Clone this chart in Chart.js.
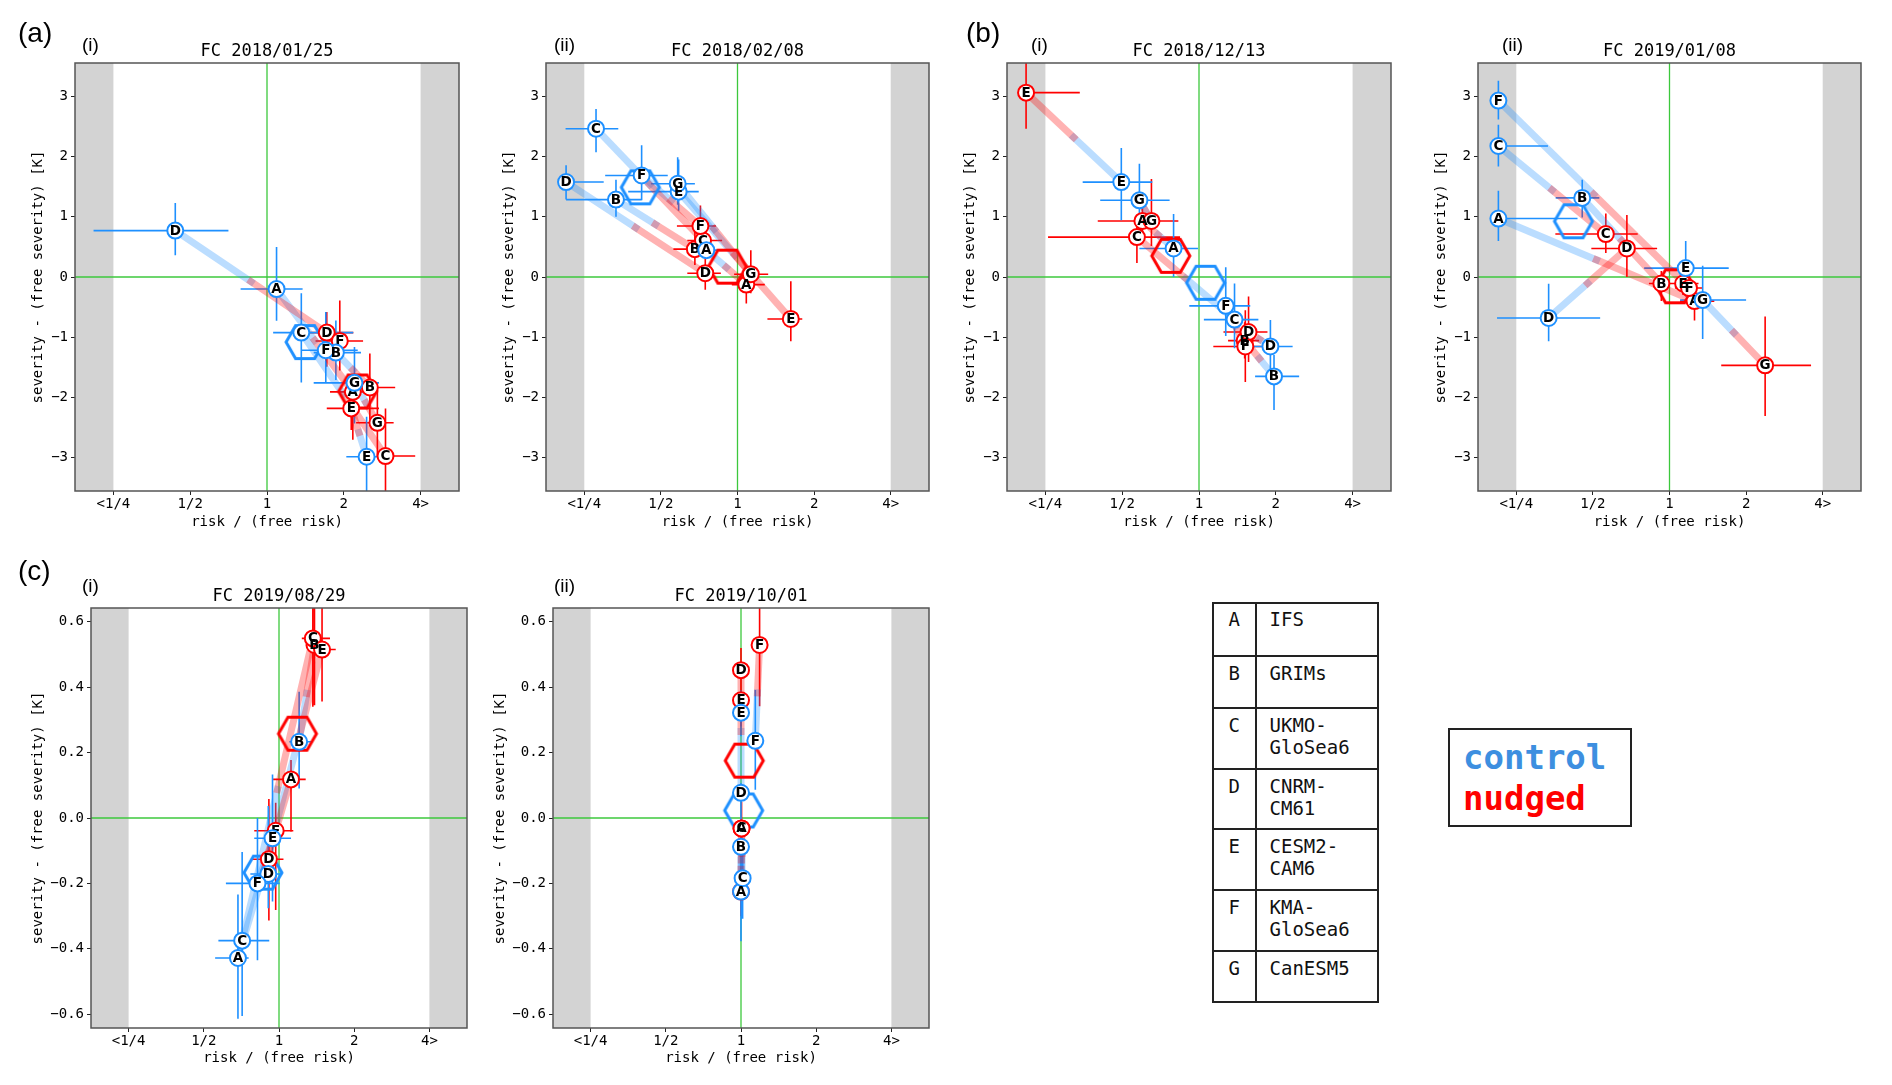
<!DOCTYPE html>
<html><head><meta charset="utf-8">
<script src="https://cdn.jsdelivr.net/npm/chart.js@4.4.1/dist/chart.umd.min.js"></script>
<style>
body{margin:0;width:1892px;height:1085px;background:#fff;position:relative;overflow:hidden}
canvas.p{position:absolute}
.lab{position:absolute;line-height:1;white-space:nowrap;color:#000;font-family:"Liberation Sans",Arial,sans-serif}
.leg{position:absolute;font-family:"DejaVu Sans Mono",monospace;font-size:19px;line-height:21.7px;color:#111;white-space:pre}
</style></head><body>
<script>
// ---------------- data ----------------
const models = ['A','B','C','D','E','F','G'];
const modelNames = ['IFS','GRIMs','UKMO-\nGloSea6','CNRM-\nCM61','CESM2-\nCAM6','KMA-\nGloSea6','CanESM5'];
const xTickValues = [0.25, 0.5, 1, 2, 4];
const xTickLabels = ['<1/4', '1/2', '1', '2', '4>'];
const bandEdges = [0.25, 4];
const yTicksLarge = [-3, -2, -1, 0, 1, 2, 3];
const yTickLabelsLarge = ['\u22123', '\u22122', '\u22121', '0', '1', '2', '3'];
const yTicksSmall = [-0.6, -0.4, -0.2, 0, 0.2, 0.4, 0.6];
const yTickLabelsSmall = ['\u22120.6', '\u22120.4', '\u22120.2', '0.0', '0.2', '0.4', '0.6'];
const panelTitles = ['FC 2018/01/25', 'FC 2018/02/08', 'FC 2018/12/13', 'FC 2019/01/08', 'FC 2019/08/29', 'FC 2019/10/01'];

// (a)(i) FC 2018/01/25            A      B      C      D      E      F      G
const a1CtrlRisk   = [1.09,  1.862, 1.363, 0.437, 2.457, 1.70,  2.202];
const a1CtrlRiskLo = [0.788, 1.524, 1.057, 0.209, 2.046, 1.355, 1.524];
const a1CtrlRiskHi = [1.379, 2.336, 2.177, 0.706, 2.748, 2.268, 2.748];
const a1CtrlSev    = [-0.20, -1.254, -0.922, 0.77, -2.982, -1.215, -1.756];
const a1CtrlSevLo  = [-0.725, -1.71, -1.75, 0.36, -3.6, -1.74, -2.43];
const a1CtrlSevHi  = [0.497, -0.72, -0.27, 1.227, -2.32, -0.58, -1.16];
const a1NudgRisk   = [2.17,  2.53,  2.914, 1.715, 2.139, 1.929, 2.708];
const a1NudgRiskLo = [1.766, 2.2,   2.715, 1.42,  1.715, 1.55,  2.235];
const a1NudgRiskHi = [2.406, 3.18,  3.81,  2.18,  2.748, 2.38,  3.136];
const a1NudgSev    = [-1.905, -1.833, -2.97, -0.922, -2.18, -1.061, -2.419];
const a1NudgSevLo  = [-2.7, -2.37, -3.6, -1.49, -2.54, -1.55, -2.98];
const a1NudgSevHi  = [-1.66, -1.27, -2.18, -0.58, -1.99, -0.39, -1.88];

// (a)(ii) FC 2018/02/08
const a2CtrlRisk   = [0.754, 0.333, 0.278, 0.212, 0.587, 0.42,  0.582];
const a2CtrlRiskLo = [0.66,  0.212, 0.211, 0.212, 0.372, 0.302, 0.457];
const a2CtrlRiskHi = [0.84,  0.42,  0.34,  0.298, 0.704, 0.532, 0.68];
const a2CtrlSev    = [0.445, 1.284, 2.46, 1.575, 1.416, 1.684, 1.547];
const a2CtrlSevLo  = [0.3, 1.0, 2.07, 1.284, 1.1, 1.273, 1.2];
const a2CtrlSevHi  = [0.6, 1.615, 2.785, 1.855, 1.95, 2.186, 1.986];
const a2NudgRisk   = [1.083, 0.68, 0.732, 0.747, 1.62,  0.715, 1.128];
const a2NudgRiskLo = [0.95,  0.56, 0.635, 0.635, 1.311, 0.578, 0.97];
const a2NudgRiskHi = [1.28,  0.8,  0.87,  0.86,  1.797, 0.823, 1.32];
const a2NudgSev    = [-0.126, 0.462, 0.605, 0.063, -0.696, 0.845, 0.046];
const a2NudgSevLo  = [-0.44, 0.2, 0.33, -0.21, -1.067, 0.474, -0.27];
const a2NudgSevHi  = [0.19, 0.75, 0.93, 0.36, -0.07, 1.187, 0.445];

// (b)(i) FC 2018/12/13
const b1CtrlRisk   = [0.795, 1.968, 1.378, 1.905, 0.496, 1.273, 0.584];
const b1CtrlRiskLo = [0.584, 1.659, 1.045, 1.564, 0.35,  0.916, 0.41];
const b1CtrlRiskHi = [0.991, 2.469, 1.709, 2.328, 0.656, 1.588, 0.767];
const b1CtrlSev    = [0.473, -1.649, -0.707, -1.152, 1.574, -0.479, 1.272];
const b1CtrlSevLo  = [0.0, -2.208, -1.18, -1.637, 0.94, -0.98, 0.645];
const b1CtrlSevHi  = [1.044, -1.295, -0.108, -0.713, 2.14, 0.16, 1.88];
const b1NudgRisk   = [0.60,  1.51, 0.571, 1.564, 0.21,  1.519, 0.651];
const b1NudgRiskLo = [0.401, 1.3,  0.256, 1.247, 0.21,  1.138, 0.45];
const b1NudgRiskHi = [0.802, 1.72, 0.843, 1.855, 0.341, 1.813, 0.83];
const b1NudgSev    = [0.93, -1.055, 0.662, -0.913, 3.058, -1.152, 0.93];
const b1NudgSevLo  = [0.6, -1.35, 0.234, -1.409, 2.459, -1.74, 0.513];
const b1NudgSevHi  = [1.3, -0.75, 0.987, -0.325, 3.6, -0.553, 1.626];

// (b)(ii) FC 2019/01/08
const b2CtrlRisk   = [0.2126, 0.454, 0.2126, 0.335, 1.158, 0.2126, 1.35];
const b2CtrlRiskLo = [0.2126, 0.357, 0.2126, 0.21,  0.795, 0.2126, 1.1];
const b2CtrlRiskHi = [0.435,  0.53,  0.333,  0.534, 1.709, 0.2126, 2.0];
const b2CtrlSev    = [0.97, 1.312, 2.173, -0.679, 0.148, 2.926, -0.382];
const b2CtrlSevLo  = [0.599, 0.987, 1.831, -1.067, -0.325, 2.613, -1.027];
const b2CtrlSevHi  = [1.432, 1.614, 2.527, -0.114, 0.599, 3.257, 0.188];
const b2NudgRisk   = [1.254, 0.929, 0.562, 0.68,  1.131, 1.193, 2.376];
const b2NudgRiskLo = [1.1,   0.83,  0.356, 0.493, 0.96,  1.05,  1.597];
const b2NudgRiskHi = [1.5,   1.05,  0.75,  0.894, 1.3,   1.35,  3.6];
const b2NudgSev    = [-0.40, -0.108, 0.713, 0.473, -0.108, -0.183, -1.466];
const b2NudgSevLo  = [-0.72, -0.4, 0.4, 0.0, -0.3, -0.45, -2.305];
const b2NudgSevHi  = [-0.15, 0.1, 1.055, 1.027, 0.1, 0.05, -0.656];

// (c)(i) FC 2019/08/29  (no CanESM5)
const c1CtrlRisk   = [0.685, 1.204, 0.712, 0.906, 0.942, 0.82,  null];
const c1CtrlRiskLo = [0.555, 1.1,   0.572, 0.768, 0.796, 0.613, null];
const c1CtrlRiskHi = [0.756, 1.36,  0.914, 1.03,  1.117, 1.006, null];
const c1CtrlSev    = [-0.428, 0.233, -0.375, -0.171, -0.062, -0.2, null];
const c1CtrlSevLo  = [-0.614, 0.09, -0.605, -0.276, -0.255, -0.435, null];
const c1CtrlSevHi  = [-0.234, 0.386, -0.104, 0.037, 0.133, 0.0, null];
const c1NudgRisk   = [1.117, 1.387, 1.366, 0.911, 1.487, 0.97,  null];
const c1NudgRiskLo = [0.947, 1.3,   1.234, 0.772, 1.4,   0.796, null];
const c1NudgRiskHi = [1.279, 1.5,   1.6,   1.042, 1.687, 1.141, null];
const c1NudgSev    = [0.118, 0.529, 0.549, -0.126, 0.515, -0.039, null];
const c1NudgSevLo  = [-0.042, 0.345, 0.34, -0.313, 0.356, -0.281, null];
const c1NudgSevHi  = [0.177, 0.75, 0.75, 0.058, 0.75, 0.047, null];

// (c)(ii) FC 2019/10/01  (no CanESM5)
const c2CtrlRisk   = [1.0,   1.0,   1.015, 1.0,   1.0,   1.141, null];
const c2CtrlRiskLo = [0.985, 0.985, 1.0,   0.985, 0.985, 1.13,  null];
const c2CtrlRiskHi = [1.015, 1.015, 1.03,  1.015, 1.015, 1.155, null];
const c2CtrlSev    = [-0.225, -0.088, -0.184, 0.077, 0.322, 0.236, null];
const c2CtrlSevLo  = [-0.377, -0.2, -0.308, 0.0, 0.25, 0.086, null];
const c2CtrlSevHi  = [-0.1, 0.0, -0.1, 0.106, 0.39, 0.391, null];
const c2NudgRisk   = [1.005, 1.0,   1.005, 1.0,   1.0,   1.187, null];
const c2NudgRiskLo = [0.99,  0.985, 0.99,  0.985, 0.985, 1.175, null];
const c2NudgRiskHi = [1.02,  1.015, 1.02,  1.015, 1.015, 1.2,   null];
const c2NudgSev    = [-0.032, -0.225, -0.032, 0.452, 0.36, 0.529, null];
const c2NudgSevLo  = [-0.1, -0.3, -0.1, 0.38, 0.28, 0.342, null];
const c2NudgSevHi  = [0.05, -0.15, 0.05, 0.52, 0.44, 0.75, null];

// ---------------- styling / helpers ----------------
const MONO = '"DejaVu Sans Mono", monospace';
const BLUE = '#1e90ff', RED = '#ff0000', GREEN = '#3cc83c';
const BLUE_T = 'rgba(30,144,255,0.3)', RED_T = 'rgba(255,0,0,0.3)';
const X_MIN = Math.pow(2, -2.5), X_MAX = Math.pow(2, 2.5);

function makeRun(risk, riskLo, riskHi, sev, sevLo, sevHi) {
  return { risk, riskLo, riskHi, sev, sevLo, sevHi };
}
function hexImage(color) {
  const r = 19, lw = 3;
  const c = document.createElement('canvas');
  c.width = 46; c.height = 40;
  const g = c.getContext('2d');
  g.translate(23, 20);
  g.beginPath();
  for (let k = 0; k < 6; k++) {
    const a = k * Math.PI / 3;
    const px = r * Math.cos(a), py = r * Math.sin(a);
    if (k) g.lineTo(px, py); else g.moveTo(px, py);
  }
  g.closePath();
  g.lineWidth = lw; g.strokeStyle = color; g.lineJoin = 'miter';
  g.stroke();
  return c;
}
const HEX_BLUE = hexImage(BLUE), HEX_RED = hexImage(RED);

function points(r) {
  const d = [], l = [];
  models.forEach((m, i) => { if (r.risk[i] != null) { d.push({ x: r.risk[i], y: r.sev[i] }); l.push(m); } });
  return { d, l };
}
function errData(r) {
  const d = [];
  models.forEach((m, i) => {
    if (r.risk[i] == null) return;
    d.push({ x: r.riskLo[i], y: r.sev[i] }, { x: r.riskHi[i], y: r.sev[i] }, { x: null, y: null },
           { x: r.risk[i], y: r.sevLo[i] }, { x: r.risk[i], y: r.sevHi[i] }, { x: null, y: null });
  });
  return d;
}
function meanPoint(r) {
  let sx = 0, sy = 0, n = 0;
  r.risk.forEach((v, i) => { if (v == null) return; sx += Math.log2(v); sy += r.sev[i]; n++; });
  return { x: Math.pow(2, sx / n), y: sy / n };
}

const bandPlugin = {
  id: 'bands',
  beforeDatasetsDraw(chart) {
    const { ctx, chartArea: a, scales: { x } } = chart;
    ctx.save();
    ctx.fillStyle = '#d3d3d3';
    const p0 = x.getPixelForValue(bandEdges[0]), p1 = x.getPixelForValue(bandEdges[1]);
    ctx.fillRect(a.left, a.top, p0 - a.left, a.height);
    ctx.fillRect(p1, a.top, a.right - p1, a.height);
    ctx.restore();
  },
  afterDatasetsDraw(chart) {
    const { ctx, chartArea: a } = chart;
    ctx.save();
    ctx.strokeStyle = '#555'; ctx.lineWidth = 1.5;
    ctx.strokeRect(a.left, a.top, a.width, a.height);
    ctx.restore();
  }
};
const letterPlugin = {
  id: 'letters',
  afterDatasetDraw(chart, args) {
    const ds = chart.data.datasets[args.index];
    if (!ds.letters) return;
    const ctx = chart.ctx;
    ctx.save();
    ctx.font = 'bold 13.5px "DejaVu Sans"';
    ctx.fillStyle = '#000'; ctx.textAlign = 'center'; ctx.textBaseline = 'middle';
    args.meta.data.forEach((el, j) => { ctx.fillText(ds.letters[j], el.x, el.y + 0.5); });
    ctx.restore();
  }
};

function buildPanel(p) {
  const cv = document.createElement('canvas');
  cv.className = 'p';
  cv.width = p.pw + 82; cv.height = p.ph + 75;
  cv.style.left = (p.pl - 70) + 'px'; cv.style.top = (p.pt - 30) + 'px';
  document.body.appendChild(cv);

  const ds = [];
  ds.push({ data: [{ x: 1, y: p.yMin }, { x: 1, y: p.yMax }], showLine: true, borderColor: GREEN, borderWidth: 1.3, pointRadius: 0, order: 30 });
  ds.push({ data: [{ x: X_MIN, y: 0 }, { x: X_MAX, y: 0 }], showLine: true, borderColor: GREEN, borderWidth: 1.3, pointRadius: 0, order: 30 });
  ds.push({ data: errData(p.nudg), showLine: true, borderColor: RED, borderWidth: 1.6, pointRadius: 0, order: 25 });
  ds.push({ data: errData(p.ctrl), showLine: true, borderColor: BLUE, borderWidth: 1.6, pointRadius: 0, order: 24 });
  models.forEach((m, i) => {
    if (p.ctrl.risk[i] == null || p.nudg.risk[i] == null) return;
    const c = { x: p.ctrl.risk[i], y: p.ctrl.sev[i] }, n = { x: p.nudg.risk[i], y: p.nudg.sev[i] };
    const mid = { x: Math.sqrt(c.x * n.x), y: (c.y + n.y) / 2 };
    ds.push({ data: [c, mid], showLine: true, borderColor: BLUE_T, borderWidth: 7, borderCapStyle: 'square', pointRadius: 0, order: 22 });
    ds.push({ data: [mid, n], showLine: true, borderColor: RED_T, borderWidth: 7, borderCapStyle: 'square', pointRadius: 0, order: 21 });
  });
  ds.push({ data: [meanPoint(p.nudg)], pointStyle: HEX_RED, pointRadius: 19, order: 18 });
  ds.push({ data: [meanPoint(p.ctrl)], pointStyle: HEX_BLUE, pointRadius: 19, order: 17 });
  const pn = points(p.nudg), pc = points(p.ctrl);
  ds.push({ data: pn.d, letters: pn.l, pointStyle: 'circle', pointRadius: 8, pointBorderWidth: 2, pointBorderColor: RED, pointBackgroundColor: '#fff', order: 15 });
  ds.push({ data: pc.d, letters: pc.l, pointStyle: 'circle', pointRadius: 8, pointBorderWidth: 2, pointBorderColor: BLUE, pointBackgroundColor: '#fff', order: 14 });

  const tickFont = { family: MONO, size: 14 };
  new Chart(cv, {
    type: 'scatter',
    data: { datasets: ds },
    plugins: [bandPlugin, letterPlugin],
    options: {
      responsive: false, animation: false, events: [],
      layout: { padding: { left: 0, right: 12, top: 0, bottom: 0 } },
      plugins: {
        legend: { display: false }, tooltip: { enabled: false },
        title: { display: true, text: p.title, fullSize: false, color: '#000',
                 font: { family: MONO, size: 17, weight: 'normal' }, padding: { top: 8.4, bottom: 1.2 } }
      },
      scales: {
        x: {
          type: 'logarithmic', min: X_MIN, max: X_MAX,
          afterBuildTicks: s => { s.ticks = xTickValues.map(v => ({ value: v })); },
          afterFit: s => { s.height = 45; },
          ticks: { callback: (v, i) => xTickLabels[i], font: tickFont, color: '#000', padding: 1, autoSkip: false, maxRotation: 0 },
          grid: { drawOnChartArea: false, drawTicks: true, tickLength: 4, color: '#222', tickWidth: 1 },
          border: { display: false },
          title: { display: true, text: 'risk / (free risk)', font: tickFont, color: '#000', padding: { top: 0, bottom: p.xTitlePad } }
        },
        y: {
          type: 'linear', min: p.yMin, max: p.yMax,
          afterBuildTicks: s => { s.ticks = p.yTicks.map(v => ({ value: v })); },
          afterFit: s => { s.width = 70; },
          ticks: { callback: (v, i) => p.yLabels[i], font: tickFont, color: '#000', padding: 3, autoSkip: false },
          grid: { drawOnChartArea: false, drawTicks: true, tickLength: 4, color: '#222', tickWidth: 1 },
          border: { display: false },
          title: { display: true, text: 'severity - (free severity) [K]', font: tickFont, color: '#000', padding: { top: p.yTitlePad, bottom: 0 } }
        }
      }
    }
  });
}

const rowA = { pt: 63, ph: 428, yMin: -3.55, yMax: 3.55, yTicks: yTicksLarge, yLabels: yTickLabelsLarge, yTitlePad: 24.6, xTitlePad: 5.6 };
const rowC = { pt: 608, ph: 420, yMin: -0.642, yMax: 0.642, yTicks: yTicksSmall, yLabels: yTickLabelsSmall, yTitlePad: 9.1, xTitlePad: 6.4 };

buildPanel(Object.assign({}, rowA, { pl: 75, pw: 392, title: panelTitles[0],
  ctrl: makeRun(a1CtrlRisk, a1CtrlRiskLo, a1CtrlRiskHi, a1CtrlSev, a1CtrlSevLo, a1CtrlSevHi),
  nudg: makeRun(a1NudgRisk, a1NudgRiskLo, a1NudgRiskHi, a1NudgSev, a1NudgSevLo, a1NudgSevHi) }));
buildPanel(Object.assign({}, rowA, { pl: 546, pw: 391, title: panelTitles[1],
  ctrl: makeRun(a2CtrlRisk, a2CtrlRiskLo, a2CtrlRiskHi, a2CtrlSev, a2CtrlSevLo, a2CtrlSevHi),
  nudg: makeRun(a2NudgRisk, a2NudgRiskLo, a2NudgRiskHi, a2NudgSev, a2NudgSevLo, a2NudgSevHi) }));
buildPanel(Object.assign({}, rowA, { pl: 1007, pw: 392, title: panelTitles[2],
  ctrl: makeRun(b1CtrlRisk, b1CtrlRiskLo, b1CtrlRiskHi, b1CtrlSev, b1CtrlSevLo, b1CtrlSevHi),
  nudg: makeRun(b1NudgRisk, b1NudgRiskLo, b1NudgRiskHi, b1NudgSev, b1NudgSevLo, b1NudgSevHi) }));
buildPanel(Object.assign({}, rowA, { pl: 1478, pw: 391, title: panelTitles[3],
  ctrl: makeRun(b2CtrlRisk, b2CtrlRiskLo, b2CtrlRiskHi, b2CtrlSev, b2CtrlSevLo, b2CtrlSevHi),
  nudg: makeRun(b2NudgRisk, b2NudgRiskLo, b2NudgRiskHi, b2NudgSev, b2NudgSevLo, b2NudgSevHi) }));
buildPanel(Object.assign({}, rowC, { pl: 91, pw: 384, title: panelTitles[4],
  ctrl: makeRun(c1CtrlRisk, c1CtrlRiskLo, c1CtrlRiskHi, c1CtrlSev, c1CtrlSevLo, c1CtrlSevHi),
  nudg: makeRun(c1NudgRisk, c1NudgRiskLo, c1NudgRiskHi, c1NudgSev, c1NudgSevLo, c1NudgSevHi) }));
buildPanel(Object.assign({}, rowC, { pl: 553, pw: 384, title: panelTitles[5],
  ctrl: makeRun(c2CtrlRisk, c2CtrlRiskLo, c2CtrlRiskHi, c2CtrlSev, c2CtrlSevLo, c2CtrlSevHi),
  nudg: makeRun(c2NudgRisk, c2NudgRiskLo, c2NudgRiskHi, c2NudgSev, c2NudgSevLo, c2NudgSevHi) }));

// panel letters
function addLabel(text, left, top, size) {
  const d = document.createElement('div');
  d.className = 'lab'; d.textContent = text;
  d.style.left = left + 'px'; d.style.top = top + 'px'; d.style.fontSize = size + 'px';
  document.body.appendChild(d);
}
addLabel('(a)', 18, 19, 28); addLabel('(b)', 966, 19, 28); addLabel('(c)', 18, 557, 28);
addLabel('(i)', 82, 35, 19); addLabel('(ii)', 554, 35, 19); addLabel('(i)', 1031, 35, 19);
addLabel('(ii)', 1502, 35, 19); addLabel('(i)', 82, 576, 19); addLabel('(ii)', 554, 576, 19);

// model legend table
const legRowTops = [0, 54, 106.6, 167.3, 227.6, 288.3, 349, 401.6];
(function () {
  const L = 1212, T = 601.7, W = 167, colX = 42.5;
  const box = document.createElement('div');
  box.style.cssText = `position:absolute;left:${L}px;top:${T}px;width:${W}px;height:${legRowTops[7]}px;border:2px solid #222;box-sizing:border-box`;
  document.body.appendChild(box);
  const v = document.createElement('div');
  v.style.cssText = `position:absolute;left:${L + colX}px;top:${T}px;width:2px;height:${legRowTops[7]}px;background:#222`;
  document.body.appendChild(v);
  for (let i = 0; i < 7; i++) {
    if (i > 0) {
      const h = document.createElement('div');
      h.style.cssText = `position:absolute;left:${L}px;top:${T + legRowTops[i] - 1}px;width:${W}px;height:2px;background:#222`;
      document.body.appendChild(h);
    }
    const a = document.createElement('div');
    a.className = 'leg'; a.textContent = models[i];
    a.style.left = L + 'px'; a.style.width = (colX + 2) + 'px'; a.style.textAlign = 'center';
    a.style.top = (T + legRowTops[i] + 7) + 'px';
    document.body.appendChild(a);
    const b = document.createElement('div');
    b.className = 'leg'; b.textContent = modelNames[i];
    b.style.left = (L + 57.5) + 'px';
    b.style.top = (T + legRowTops[i] + 7) + 'px';
    document.body.appendChild(b);
  }
  const cb = document.createElement('div');
  cb.style.cssText = 'position:absolute;left:1448px;top:728px;width:184px;height:99px;border:2px solid #222;box-sizing:border-box';
  document.body.appendChild(cb);
  const t1 = document.createElement('div');
  t1.textContent = 'control';
  t1.style.cssText = 'position:absolute;left:1463px;top:739.5px;font:bold 34px/1 "DejaVu Sans Mono",monospace;color:#3d8fe0;white-space:nowrap';
  document.body.appendChild(t1);
  const t2 = document.createElement('div');
  t2.textContent = 'nudged';
  t2.style.cssText = 'position:absolute;left:1463px;top:781.2px;font:bold 34px/1 "DejaVu Sans Mono",monospace;color:#ff0000;white-space:nowrap';
  document.body.appendChild(t2);
})();
</script>
</body></html>
